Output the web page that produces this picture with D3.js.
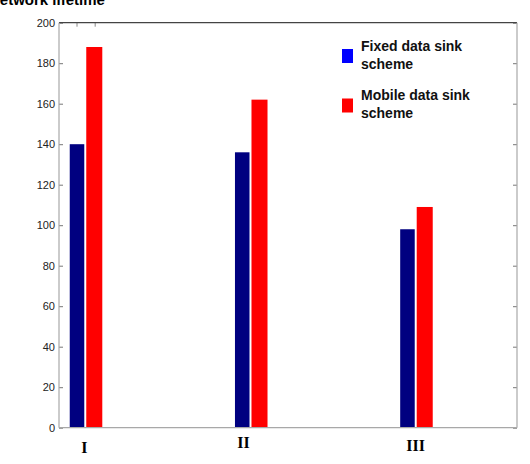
<!DOCTYPE html>
<html>
<head>
<meta charset="utf-8">
<script src="https://cdn.jsdelivr.net/npm/d3@7"></script>
<style>
  body { margin: 0; background: #fff; }
  svg { display: block; }
</style>
</head>
<body>
<script>
// data
const groups = [1, 2, 3];
const groupLabels = ["I", "II", "III"];
const fixedSink = [140, 136, 98];
const mobileSink = [188, 162, 109];
const seriesNames = ["Fixed data sink\nscheme", "Mobile data sink\nscheme"];
const yTicks = [0, 20, 40, 60, 80, 100, 120, 140, 160, 180, 200];
const topTicks = [0.95, 1.06];

const width = 530, height = 464;
const plotL = 59, plotR = 517, plotT = 22.7, plotB = 427.7;

const svg = d3.select("body").append("svg")
  .attr("width", width)
  .attr("height", height);

const x = d3.scaleLinear().domain([0.841, 3.613]).range([plotL, plotR]);
const y = d3.scaleLinear().domain([0, 200]).range([plotB, plotT]);

// bars
const navy = "#000080", red = "#ff0000";
const unit = x(2) - x(1);

svg.append("g")
  .selectAll("rect")
  .data(groups.map((g, i) => ({ g, v: fixedSink[i] })))
  .join("rect")
  .attr("x", d => x(d.g) - 0.094 * unit)
  .attr("width", 0.088 * unit)
  .attr("y", d => y(d.v))
  .attr("height", d => y(0) - y(d.v))
  .attr("fill", navy);

svg.append("g")
  .selectAll("rect")
  .data(groups.map((g, i) => ({ g, v: mobileSink[i] })))
  .join("rect")
  .attr("x", d => x(d.g) + 0.006 * unit)
  .attr("width", 0.097 * unit)
  .attr("y", d => y(d.v))
  .attr("height", d => y(0) - y(d.v))
  .attr("fill", red);

// left axis, ticks point inwards
const yl = svg.append("g")
  .attr("transform", `translate(${plotL},0)`)
  .call(d3.axisLeft(y).tickValues(yTicks).tickSize(-4).tickPadding(4));
yl.select(".domain").remove();
yl.selectAll("line").attr("stroke", "#777");
yl.selectAll("text")
  .attr("font-family", "Arial, 'Liberation Sans', sans-serif")
  .attr("font-size", 11)
  .attr("fill", "#222");

// right axis, ticks only
const yr = svg.append("g")
  .attr("transform", `translate(${plotR},0)`)
  .call(d3.axisRight(y).tickValues(yTicks).tickSize(-4).tickFormat(""));
yr.select(".domain").remove();
yr.selectAll("line").attr("stroke", "#777");

// top ticks
svg.append("g")
  .selectAll("line")
  .data(topTicks)
  .join("line")
  .attr("x1", d => x(d)).attr("x2", d => x(d))
  .attr("y1", plotT).attr("y2", plotT + 4)
  .attr("stroke", "#888");

// frame
svg.append("line").attr("x1", plotL).attr("x2", plotR).attr("y1", plotT).attr("y2", plotT)
  .attr("stroke", "#444").attr("stroke-width", 1.2);
svg.append("line").attr("x1", plotL).attr("x2", plotL).attr("y1", plotT).attr("y2", plotB)
  .attr("stroke", "#a8a8a8").attr("stroke-width", 1.2);
svg.append("line").attr("x1", plotR).attr("x2", plotR).attr("y1", plotT).attr("y2", plotB)
  .attr("stroke", "#a8a8a8").attr("stroke-width", 1.2);
svg.append("line").attr("x1", plotL).attr("x2", plotR).attr("y1", plotB).attr("y2", plotB)
  .attr("stroke", "#a8a8a8").attr("stroke-width", 1.2);

// group labels
const labelNudge = [[-1, 453], [-7, 448], [0, 451]];
svg.append("g")
  .selectAll("text")
  .data(groupLabels)
  .join("text")
  .attr("x", (d, i) => x(groups[i]) + labelNudge[i][0])
  .attr("y", (d, i) => labelNudge[i][1])
  .attr("text-anchor", "middle")
  .attr("font-family", "'Times New Roman', 'Liberation Serif', serif")
  .attr("font-weight", "bold")
  .attr("font-size", 16)
  .attr("fill", "#000")
  .text(d => d);

// title, cut off on the left like the original
svg.append("text")
  .attr("x", -11)
  .attr("y", 5)
  .attr("font-family", "Arial, 'Liberation Sans', sans-serif")
  .attr("font-weight", "bold")
  .attr("font-size", 15)
  .attr("fill", "#000")
  .text("Network lifetime");

// legend
const legColors = ["#0000ff", "#ff0000"];
const leg = svg.append("g").attr("transform", "translate(342,49)");
seriesNames.forEach((name, i) => {
  const g = leg.append("g").attr("transform", `translate(0,${i * 49.5})`);
  g.append("rect")
    .attr("width", 11)
    .attr("height", 14)
    .attr("fill", legColors[i]);
  const t = g.append("text")
    .attr("font-family", "Arial, 'Liberation Sans', sans-serif")
    .attr("font-weight", "bold")
    .attr("font-size", 14)
    .attr("fill", "#111");
  name.split("\n").forEach((line, j) => {
    t.append("tspan").attr("x", 19).attr("y", 1.5 + j * 18).text(line);
  });
});
</script>
</body>
</html>
